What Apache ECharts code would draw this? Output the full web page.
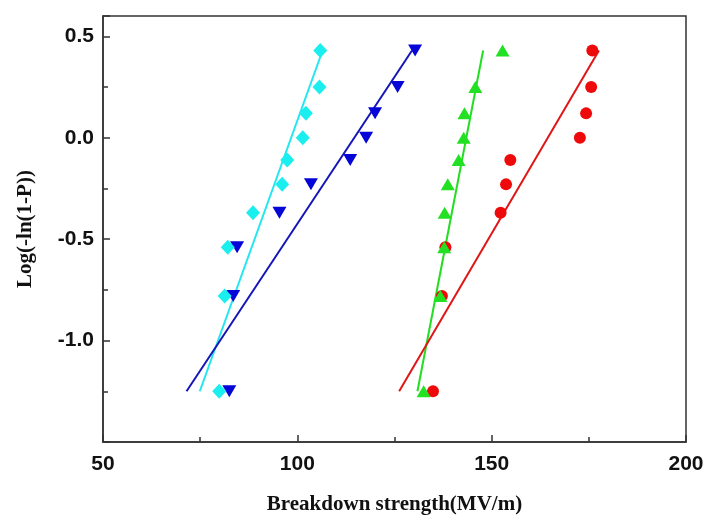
<!DOCTYPE html>
<html>
<head>
<meta charset="utf-8">
<script src="https://cdn.jsdelivr.net/npm/echarts@6/dist/echarts.min.js"></script>
<style>
  html, body { margin: 0; padding: 0; background: #fff; }
  #chart { width: 705px; height: 515px; }
</style>
</head>
<body>
<div id="chart"></div>
<script>
  // y levels shared by all four samples
  const yLevels = [0.43, 0.25, 0.12, 0.00, -0.11, -0.23, -0.37, -0.54, -0.78, -1.25]

  // breakdown strengths
  const cyanX = [105.9, 105.7, 102.2, 101.4, 97.4, 96.1, 88.6, 82.1, 81.3, 79.9]
  const blueX = [130.3, 125.8, 120.0, 117.7, 113.6, 103.5, 95.4, 84.5, 83.5, 82.5]
  const greenX = [152.8, 145.8, 143.0, 142.8, 141.5, 138.7, 137.9, 137.8, 136.8, 132.5]
  const redX = [175.9, 175.6, 174.3, 172.7, 154.8, 153.7, 152.3, 138.1, 137.2, 134.9]

  // fitted lines: [x at bottom, x at top]
  const fitY = [-1.25, 0.43]
  const cyanFit = [74.9, 106.5]
  const blueFit = [71.5, 129.5]
  const greenFit = [130.9, 147.8]
  const redFit = [126.2, 177.6]

  const pts = (xs) => xs.map((x, i) => [x, yLevels[i]])
  const fit = (xs) => xs.map((x, i) => [x, fitY[i]])

  const labelFont = {fontFamily: "Liberation Sans", fontWeight: "bold", fontSize: 21, color: "#111"}
  const titleFont = {fontFamily: "Liberation Serif", fontWeight: "bold", fontSize: 21, color: "#111"}

  const option = {
    animation: false,
    grid: {
      left: 103, right: 19, top: 16, bottom: 73, outerBoundsMode: "none",
      show: true, borderColor: "#333", borderWidth: 1.5
    },
    xAxis: {
      type: "value", min: 50, max: 200, interval: 50,
      name: "Breakdown strength(MV/m)", nameLocation: "middle", nameGap: 52,
      nameTextStyle: titleFont,
      axisLine: {onZero: false, lineStyle: {color: "#333", width: 1.5}},
      axisTick: {inside: true, length: 7, lineStyle: {color: "#333", width: 1.5}},
      minorTick: {show: true, splitNumber: 2, length: 5, lineStyle: {color: "#333", width: 1.5}},
      splitLine: {show: false},
      axisLabel: Object.assign({margin: 12}, labelFont)
    },
    yAxis: {
      type: "value", min: -1.5, max: 0.6, interval: 0.5,
      name: "Log(-ln(1-P))", nameLocation: "middle", nameGap: 67,
      nameTextStyle: titleFont,
      axisLine: {show: true, onZero: false, lineStyle: {color: "#333", width: 1.5}},
      axisTick: {inside: true, length: 7, lineStyle: {color: "#333", width: 1.5}},
      minorTick: {show: true, splitNumber: 2, length: 5, lineStyle: {color: "#333", width: 1.5}},
      splitLine: {show: false},
      axisLabel: Object.assign({
        margin: 9,
        formatter: function (v) {
          if (v < -1.4 || v > 0.55) return ""
          return v.toFixed(1)
        }
      }, labelFont)
    },
    series: [
      {type: "line", data: fit(cyanFit), symbol: "none", lineStyle: {color: "#22E6F0", width: 2}, z: 2},
      {type: "line", data: fit(blueFit), symbol: "none", lineStyle: {color: "#1515B8", width: 2}, z: 2},
      {type: "line", data: fit(greenFit), symbol: "none", lineStyle: {color: "#22DD22", width: 2}, z: 2},
      {type: "line", data: fit(redFit), symbol: "none", lineStyle: {color: "#E01515", width: 2}, z: 2},
      {type: "scatter", data: pts(redX), symbol: "circle", symbolSize: 12, itemStyle: {color: "#EE0A0A", opacity: 1}, z: 3},
      {type: "scatter", data: pts(greenX), symbol: "triangle", symbolSize: [14, 12], itemStyle: {color: "#22E022", opacity: 1}, z: 4},
      {type: "scatter", data: pts(blueX), symbol: "triangle", symbolRotate: 180, symbolSize: [14, 12], itemStyle: {color: "#0505D8", opacity: 1}, z: 3},
      {type: "scatter", data: pts(cyanX), symbol: "diamond", symbolSize: [14, 15], itemStyle: {color: "#1AEEEE", opacity: 1}, z: 4}
    ]
  }

  const myChart = echarts.init(document.getElementById("chart"))
  myChart.setOption(option)
</script>
</body>
</html>
